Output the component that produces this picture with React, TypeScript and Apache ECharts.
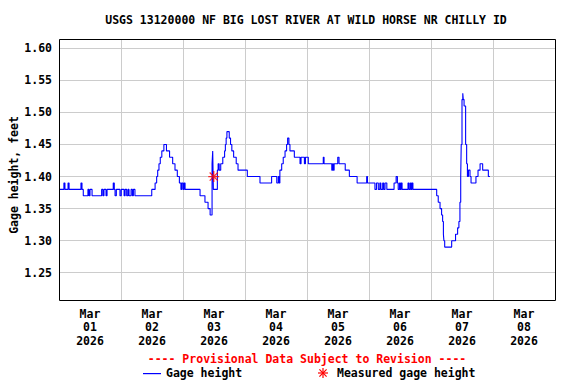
import React, { useEffect, useRef } from 'react';
import * as echarts from 'echarts';

const dayLabels = [
  'Mar\n01\n2026', 'Mar\n02\n2026', 'Mar\n03\n2026', 'Mar\n04\n2026',
  'Mar\n05\n2026', 'Mar\n06\n2026', 'Mar\n07\n2026', 'Mar\n08\n2026',
];
const yTickValues = [1.25, 1.3, 1.35, 1.4, 1.45, 1.5, 1.55, 1.6];

// hours since Mar 01 2026 00:00
const hours = [
  0, 1.9, 2.3, 3.5, 3.9, 8.5, 8.9, 9.4, 11.2, 11.6, 12.0, 12.8, 16.5, 17.0, 17.4, 18.2, 18.6,
  21.0, 21.4, 21.7, 22.2, 23.6, 24.1, 25.2, 25.6, 26.2, 26.7, 27.1, 27.9, 28.4, 28.8, 29.4,
  35.9, 37.2, 37.8, 38.2, 38.7, 39.2, 39.8, 40.6, 41.6, 42.8, 44.0, 44.9, 45.8, 46.6, 47.2,
  47.5, 48.0, 48.4, 48.8, 54.6, 56.5, 57.7, 58.5, 59.25, 59.5, 59.75, 61.3, 61.6, 62.0, 62.6,
  63.4, 64.1, 64.4, 64.7, 65.0, 65.9, 66.4, 66.9, 67.6, 68.6, 69.3, 72.9, 77.8, 82.3, 84.3,
  84.9, 85.2, 85.5, 86.2, 86.8, 87.5, 88.1, 88.5, 89.0, 89.4, 91.1, 93.3, 93.7, 95.0, 95.4,
  96.5, 102.3, 102.6, 105.6, 105.9, 106.2, 106.5, 107.9, 108.4, 110.8, 112.4, 115.4, 119.1,
  119.4, 122.3, 122.9, 123.6, 124.2, 124.6, 125.3, 125.7, 126.2, 126.9, 129.7, 130.5, 131.0,
  131.3, 131.8, 132.1, 132.4, 132.8, 135.1, 135.5, 136.0, 136.3, 136.6, 137.0, 146.2, 146.8,
  147.5, 148.1, 148.5, 148.8, 149.0, 149.3, 152.0, 153.5, 154.3, 154.8, 155.2, 155.5, 155.7,
  156.0, 156.3, 156.5, 156.8, 157.4, 157.8, 158.1, 158.5, 159.1, 159.5, 161.4, 162.2, 163.0,
  164.0, 166.2, 166.8,
];
const gageHeight = [
  1.38, 1.39, 1.38, 1.39, 1.38, 1.39, 1.38, 1.37, 1.38, 1.37, 1.38, 1.37, 1.38, 1.37, 1.38, 1.37, 1.38,
  1.39, 1.38, 1.37, 1.38, 1.37, 1.38, 1.37, 1.38, 1.37, 1.38, 1.37, 1.38, 1.37, 1.38, 1.37,
  1.38, 1.39, 1.40, 1.41, 1.42, 1.43, 1.44, 1.45, 1.44, 1.43, 1.42, 1.41, 1.40, 1.39, 1.38,
  1.39, 1.38, 1.39, 1.38, 1.37, 1.36, 1.35, 1.34, 1.42, 1.44, 1.38, 1.41, 1.42, 1.41, 1.42,
  1.43, 1.44, 1.45, 1.46, 1.47, 1.46, 1.45, 1.44, 1.43, 1.42, 1.41, 1.40, 1.39, 1.40, 1.39,
  1.40, 1.39, 1.41, 1.42, 1.43, 1.44, 1.45, 1.46, 1.45, 1.44, 1.43, 1.42, 1.43, 1.42, 1.43,
  1.42, 1.43, 1.42, 1.41, 1.42, 1.41, 1.42, 1.43, 1.42, 1.41, 1.40, 1.39, 1.40,
  1.39, 1.38, 1.39, 1.38, 1.39, 1.38, 1.39, 1.38, 1.39, 1.38, 1.39, 1.40, 1.39,
  1.38, 1.39, 1.38, 1.39, 1.38, 1.39, 1.38, 1.39, 1.38, 1.39, 1.38, 1.37, 1.36,
  1.35, 1.34, 1.33, 1.31, 1.30, 1.29, 1.30, 1.31, 1.32, 1.33, 1.36, 1.40, 1.45,
  1.52, 1.53, 1.52, 1.51, 1.45, 1.42, 1.40, 1.41, 1.40, 1.39, 1.40, 1.41, 1.42,
  1.41, 1.40, 1.40,
];
const measuredHours = [59.9];
const measuredHeight = [1.4];

const FONT = '"DejaVu Sans Mono", "Liberation Mono", monospace';
const ASTERISK =
  'path://M0,4.4H10V5.6H0Z M4.4,0H5.6V10H4.4Z M0.9,1.7L1.7,0.9L9.1,8.3L8.3,9.1Z M8.3,0.9L9.1,1.7L1.7,9.1L0.9,8.3Z';

export default function App() {
  const ref = useRef<HTMLDivElement>(null);
  useEffect(() => {
    const chart = echarts.init(ref.current as HTMLDivElement, null, { renderer: 'svg' });
    const lineData = hours.map((h, i) => [h, gageHeight[i]]);
    const measData = measuredHours.map((h, i) => [h, measuredHeight[i]]);
    const txt = { fontFamily: FONT, fontWeight: 'bold' as const, fontSize: 11.5 };
    const ax = 323;
    const ay = 373;
    const r = 5;
    chart.setOption({
      animation: false,
      backgroundColor: '#ffffff',
      grid: { left: 59, top: 39, width: 496, height: 261, show: false },
      xAxis: [
        {
          type: 'category',
          data: dayLabels,
          boundaryGap: true,
          axisLine: { show: false },
          axisTick: { show: false },
          splitLine: { show: true, lineStyle: { color: '#cccccc', width: 1 } },
          axisLabel: { interval: 0, color: '#000', ...txt, lineHeight: 13.5, margin: 7 },
        },
        { type: 'value', min: 0, max: 192, show: false },
      ],
      yAxis: {
        type: 'value',
        min: 1.2075,
        max: 1.6145,
        axisLine: { show: false },
        axisTick: { show: false, customValues: yTickValues },
        axisLabel: {
          customValues: yTickValues,
          formatter: (v: number) => v.toFixed(2),
          color: '#000',
          ...txt,
          margin: 7,
        },
        splitLine: { show: true, lineStyle: { color: '#cccccc', width: 1 } },
      },
      series: [
        {
          type: 'line',
          xAxisIndex: 1,
          data: lineData,
          step: 'end',
          symbol: 'none',
          silent: true,
          lineStyle: { color: '#0000ff', width: 1.1 },
          z: 3,
        },
        {
          type: 'scatter',
          xAxisIndex: 1,
          data: measData,
          symbol: ASTERISK,
          symbolSize: 11,
          silent: true,
          itemStyle: { color: '#ff0000' },
          z: 4,
        },
      ],
      graphic: [
        {
          type: 'rect',
          shape: { x: 59.5, y: 39.5, width: 496, height: 261 },
          style: { fill: 'none', stroke: '#000', lineWidth: 1 },
          z: 100,
          silent: true,
        },
        {
          type: 'text',
          x: 306,
          y: 20,
          style: {
            text: 'USGS 13120000 NF BIG LOST RIVER AT WILD HORSE NR CHILLY ID',
            align: 'center',
            verticalAlign: 'middle',
            fill: '#000',
            font: `bold 11.5px ${FONT}`,
          },
        },
        {
          type: 'text',
          x: 14,
          y: 175,
          rotation: Math.PI / 2,
          style: {
            text: 'Gage height, feet',
            align: 'center',
            verticalAlign: 'middle',
            fill: '#000',
            font: `bold 11.5px ${FONT}`,
          },
        },
        {
          type: 'text',
          x: 307,
          y: 359,
          style: {
            text: '---- Provisional Data Subject to Revision ----',
            align: 'center',
            verticalAlign: 'middle',
            fill: '#ff0000',
            font: `bold 11.5px ${FONT}`,
          },
        },
        {
          type: 'rect',
          shape: { x: 143, y: 373, width: 18, height: 1.2 },
          style: { fill: '#0000ff' },
        },
        {
          type: 'text',
          x: 166,
          y: 373,
          style: {
            text: 'Gage height',
            align: 'left',
            verticalAlign: 'middle',
            fill: '#000',
            font: `bold 11.5px ${FONT}`,
          },
        },
        { type: 'line', shape: { x1: ax - r, y1: ay, x2: ax + r, y2: ay }, style: { stroke: '#ff0000', lineWidth: 1.2 } },
        { type: 'line', shape: { x1: ax, y1: ay - r, x2: ax, y2: ay + r }, style: { stroke: '#ff0000', lineWidth: 1.2 } },
        { type: 'line', shape: { x1: ax - 3.6, y1: ay - 3.6, x2: ax + 3.6, y2: ay + 3.6 }, style: { stroke: '#ff0000', lineWidth: 1.2 } },
        { type: 'line', shape: { x1: ax - 3.6, y1: ay + 3.6, x2: ax + 3.6, y2: ay - 3.6 }, style: { stroke: '#ff0000', lineWidth: 1.2 } },
        {
          type: 'text',
          x: 337,
          y: 373,
          style: {
            text: 'Measured gage height',
            align: 'left',
            verticalAlign: 'middle',
            fill: '#000',
            font: `bold 11.5px ${FONT}`,
          },
        },
      ],
    });
    return () => chart.dispose();
  }, []);
  return (
    <div
      ref={ref}
      style={{ position: 'fixed', left: 0, top: 0, width: 576, height: 384, background: '#fff' }}
    />
  );
}
